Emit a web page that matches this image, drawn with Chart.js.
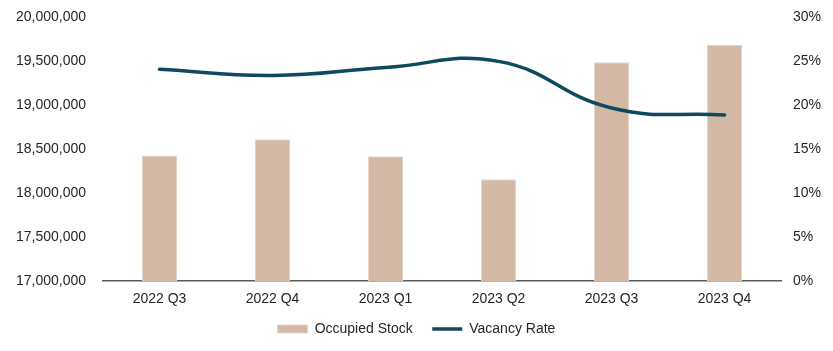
<!DOCTYPE html>
<html>
<head>
<meta charset="utf-8">
<script src="https://cdn.jsdelivr.net/npm/chart.js@4.4.1/dist/chart.umd.min.js"></script>
<style>
  html, body { margin: 0; padding: 0; background: #fff; }
  #wrap { width: 833px; height: 351px; position: relative; }
</style>
</head>
<body>
<div id="wrap"><canvas id="stockChart"></canvas></div>
<script>
const quarters = ['2022 Q3', '2022 Q4', '2023 Q1', '2023 Q2', '2023 Q3', '2023 Q4'];
const occupiedStock = [18430000, 18615000, 18420000, 18160000, 19490000, 19690000];
const vacancyRate = [24.1, 23.4, 24.3, 25.0, 19.7, 18.9];

const textColor = '#262626';
const font = { family: 'Liberation Sans, Arial, sans-serif', size: 14 };

const ctx = document.getElementById('stockChart').getContext('2d');
const stockChart = new Chart(ctx, {
    type: 'bar',
    data: {
        labels: quarters,
        datasets: [{
            type: 'line',
            label: 'Vacancy Rate',
            data: vacancyRate,
            yAxisID: 'y1',
            borderColor: '#0d4a5f',
            backgroundColor: '#0d4a5f',
            borderWidth: 3.5,
            tension: 0.45,
            pointRadius: 0,
            borderCapStyle: 'round',
            order: 0
        }, {
            label: 'Occupied Stock',
            data: occupiedStock,
            yAxisID: 'y',
            backgroundColor: '#d3b8a6',
            borderColor: '#e6d6ca',
            borderWidth: 1,
            barPercentage: 0.31,
            categoryPercentage: 1,
            order: 1
        }]
    },
    options: {
        responsive: true,
        maintainAspectRatio: false,
        animation: false,
        layout: { padding: { top: 11, left: 0, right: 0, bottom: 5 } },
        plugins: {
            tooltip: { enabled: false },
            legend: {
                position: 'bottom',
                reverse: true,
                labels: {
                    color: textColor,
                    font: font,
                    usePointStyle: true,
                    pointStyleWidth: 30,
                    boxHeight: 8,
                    padding: 4,
                    generateLabels: chart => {
                        const items = Chart.defaults.plugins.legend.labels.generateLabels(chart);
                        items.forEach(it => {
                            if (it.datasetIndex === 0) {
                                it.pointStyle = 'line';
                                it.lineWidth = 3.5;
                            } else {
                                it.pointStyle = 'rect';
                                // extra gap before the next legend item
                                it.text = it.text + '\u00a0\u00a0\u00a0\u00a0';
                            }
                        });
                        return items;
                    }
                }
            }
        },
        scales: {
            x: {
                grid: { display: false, drawTicks: false },
                border: { display: true, color: '#595959', width: 1.5 },
                ticks: { color: textColor, font: font, padding: 10, maxRotation: 0 }
            },
            y: {
                position: 'left',
                min: 17000000,
                max: 20000000,
                grid: { display: false },
                border: { display: false },
                ticks: {
                    stepSize: 500000,
                    color: textColor,
                    font: font,
                    padding: 9,
                    callback: v => v.toLocaleString('en-US')
                },
                afterFit: s => { s.width = 103; }
            },
            y1: {
                position: 'right',
                min: 0,
                max: 30,
                grid: { display: false },
                border: { display: false },
                ticks: {
                    stepSize: 5,
                    color: textColor,
                    font: font,
                    padding: 4,
                    callback: v => v + '%'
                },
                afterFit: s => { s.width = 52; }
            }
        }
    }
});
</script>
</body>
</html>
